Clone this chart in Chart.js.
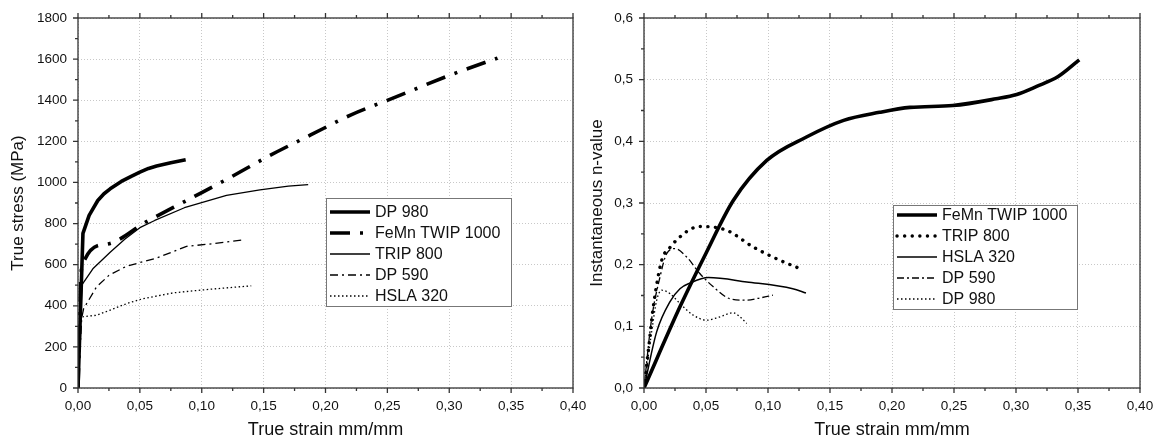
<!DOCTYPE html>
<html>
<head>
<meta charset="utf-8">
<script src="https://cdn.jsdelivr.net/npm/chart.js@4/dist/chart.umd.min.js"></script>
<style>
    html, body { margin: 0; padding: 0; background: #fff; }
    #wrap { position: relative; width: 1158px; height: 444px; overflow: hidden; }
    #left { position: absolute; left: 0; top: 0; width: 600px; height: 444px; }
    #right { position: absolute; left: 579px; top: 0; width: 579px; height: 444px; }
</style>
</head>
<body>
<div id="wrap">
    <div id="left"><canvas id="stressChart"></canvas></div>
    <div id="right"><canvas id="nChart"></canvas></div>
</div>
<script>
// ---- left panel: true stress vs true strain ----
const dp980Strain = [0, 0.004, 0.009, 0.016, 0.021, 0.026, 0.035, 0.043, 0.05, 0.057, 0.0635, 0.075, 0.087];
const dp980Stress = [0, 752, 840, 912, 945, 969, 1005, 1030, 1050, 1068, 1080, 1096, 1110];
const twipStrain = [0, 0.003, 0.0226, 0.0559, 0.089, 0.122, 0.155, 0.188, 0.2207, 0.254, 0.305, 0.339];
const twipStress = [0, 589, 699, 811, 916, 1021, 1131, 1231, 1329, 1409, 1532, 1605];
const trip800Strain = [0, 0.003, 0.012, 0.026, 0.038, 0.05, 0.062, 0.086, 0.12, 0.147, 0.17, 0.186];
const trip800Stress = [0, 500, 580, 660, 725, 780, 815, 877, 937, 964, 982, 989];
const dp590Strain = [0, 0.003, 0.0045, 0.015, 0.025, 0.039, 0.0635, 0.0877, 0.109, 0.1347];
const dp590Stress = [0, 340, 385, 492, 548, 592, 632, 689, 702, 722];
const hsla320Strain = [0, 0.002, 0.003, 0.015, 0.026, 0.04, 0.0527, 0.077, 0.104, 0.14];
const hsla320Stress = [0, 320, 346, 354, 379, 412, 435, 463, 479, 497];

// ---- right panel: instantaneous n-value vs true strain ----
const twipNStrain = [0, 0.029, 0.0505, 0.072, 0.099, 0.131, 0.161, 0.19, 0.2145, 0.249, 0.284, 0.3006, 0.3167, 0.334, 0.351];
const twipN = [0, 0.1316, 0.2206, 0.304, 0.369, 0.407, 0.434, 0.447, 0.455, 0.458, 0.469, 0.476, 0.489, 0.505, 0.532];
const trip800NStrain = [0, 0.0035, 0.0075, 0.0143, 0.021, 0.029, 0.038, 0.045, 0.0667, 0.088, 0.1097, 0.1244];
const trip800N = [0, 0.0615, 0.1316, 0.207, 0.228, 0.245, 0.258, 0.262, 0.2557, 0.2287, 0.207, 0.1947];
const hsla320NStrain = [0, 0.0102, 0.021, 0.029, 0.037, 0.0519, 0.0828, 0.12, 0.1306];
const hsla320N = [0, 0.091, 0.14, 0.161, 0.170, 0.179, 0.172, 0.161, 0.154];
const dp590NStrain = [0, 0.006, 0.0129, 0.0183, 0.025, 0.0344, 0.045, 0.0559, 0.069, 0.0828, 0.0935, 0.104];
const dp590N = [0, 0.11, 0.18, 0.218, 0.226, 0.2125, 0.1857, 0.164, 0.145, 0.1424, 0.146, 0.1505];
const dp980NStrain = [0, 0.006, 0.0102, 0.0143, 0.021, 0.029, 0.0398, 0.0505, 0.0613, 0.072, 0.0774, 0.0828];
const dp980N = [0, 0.0885, 0.142, 0.1586, 0.153, 0.137, 0.118, 0.11, 0.1154, 0.122, 0.1154, 0.1047];

const strainTicks = [0, 0.05, 0.10, 0.15, 0.20, 0.25, 0.30, 0.35, 0.40];
const stressTicks = [0, 200, 400, 600, 800, 1000, 1200, 1400, 1600, 1800];
const nTicks = [0, 0.1, 0.2, 0.3, 0.4, 0.5, 0.6];

Chart.defaults.font.family = "'Liberation Sans', Arial, sans-serif";
Chart.defaults.color = "#111";

let pts = (xs, ys) => xs.map((v, i) => ({x: v, y: ys[i]}));
let comma = (v, d) => Number(v).toFixed(d).replace(".", ",");

// box around plot area, with outward major/minor ticks
const framePlugin = {
    id: "frame",
    afterDatasetsDraw(chart, args, opts) {
        const {ctx, chartArea: a, scales: {x, y}} = chart;
        ctx.save();
        ctx.strokeStyle = "#333";
        ctx.lineWidth = 1.3;
        ctx.strokeRect(a.left, a.top, a.right - a.left, a.bottom - a.top);
        ctx.beginPath();
        let n = Math.round((x.max - x.min) / (opts.xStep / 2));
        for (let i = 0; i <= n; i++) {
            let px = x.getPixelForValue(x.min + i * opts.xStep / 2);
            let len = i % 2 ? 3 : 5;
            ctx.moveTo(px, a.bottom); ctx.lineTo(px, a.bottom + len);
            ctx.moveTo(px, a.top); ctx.lineTo(px, a.top - len);
        }
        n = Math.round((y.max - y.min) / (opts.yStep / 2));
        for (let i = 0; i <= n; i++) {
            let py = y.getPixelForValue(y.min + i * opts.yStep / 2);
            let len = i % 2 ? 3 : 5;
            ctx.moveTo(a.left, py); ctx.lineTo(a.left - len, py);
        }
        ctx.stroke();
        ctx.restore();
    }
};

// boxed legend inside the plot
const boxLegend = {
    id: "boxLegend",
    afterDraw(chart, args, o) {
        const ctx = chart.ctx;
        ctx.save();
        ctx.fillStyle = "#fff";
        ctx.fillRect(o.x, o.y, o.w, o.h);
        ctx.strokeStyle = "#777";
        ctx.lineWidth = 1;
        ctx.strokeRect(o.x + 0.5, o.y + 0.5, o.w, o.h);
        ctx.font = "16px 'Liberation Sans', Arial, sans-serif";
        ctx.textBaseline = "middle";
        chart.data.datasets.forEach((ds, i) => {
            let cy = o.y + o.first + i * o.row;
            ctx.strokeStyle = "#000";
            ctx.lineWidth = ds.borderWidth;
            ctx.lineCap = ds.borderCapStyle || "butt";
            ctx.setLineDash(ds.borderDash || []);
            ctx.beginPath();
            ctx.moveTo(o.x + 4, cy);
            ctx.lineTo(o.x + 44, cy);
            ctx.stroke();
            ctx.fillStyle = "#111";
            ctx.fillText(ds.label, o.x + 49, cy + 1);
        });
        ctx.restore();
    }
};

let lineSet = (label, data, width, dash, cap, smooth) => ({
    label: label,
    data: data,
    borderColor: "#000",
    borderWidth: width,
    borderDash: dash,
    borderCapStyle: cap || "butt",
    borderJoinStyle: "round",
    pointRadius: 0,
    fill: false,
    tension: 0,
    cubicInterpolationMode: smooth ? "monotone" : "default"
});

let makeOptions = (cfg) => ({
    responsive: true,
    maintainAspectRatio: false,
    animation: false,
    events: [],
    layout: {padding: {top: 18, right: cfg.padRight, left: 0, bottom: 0}},
    plugins: {
        legend: {display: false},
        tooltip: {enabled: false},
        frame: {xStep: 0.05, yStep: cfg.yStep},
        boxLegend: cfg.legend
    },
    scales: {
        x: {
            type: "linear",
            min: 0,
            max: 0.4,
            afterBuildTicks: s => { s.ticks = strainTicks.map(v => ({value: v})); },
            afterFit: s => { s.height = 56; s.paddingLeft = 0; s.paddingRight = 0; },
            ticks: {font: {size: 13.5}, padding: 10, maxRotation: 0, callback: v => comma(v, 2)},
            grid: {color: "#c8c8c8", lineWidth: 1, drawTicks: false},
            border: {display: false, dash: [1, 2]},
            title: {display: true, text: "True strain mm/mm", font: {size: 18}, padding: {top: 0, bottom: 3}}
        },
        y: {
            min: 0,
            max: cfg.yMax,
            afterBuildTicks: s => { s.ticks = cfg.yTicks.map(v => ({value: v})); },
            afterFit: s => { s.width = cfg.yWidth; s.paddingTop = 0; s.paddingBottom = 0; },
            ticks: {font: {size: 13.5}, padding: 11, callback: cfg.yLabel},
            grid: {color: "#c8c8c8", lineWidth: 1, drawTicks: false},
            border: {display: false, dash: [1, 2]},
            title: {display: true, text: cfg.yTitle, font: {size: 17}, padding: {top: 8, bottom: 0}}
        }
    }
});

new Chart(document.getElementById("stressChart").getContext("2d"), {
    type: "line",
    data: {
        datasets: [
            lineSet("DP 980", pts(dp980Strain, dp980Stress), 3.6, []),
            lineSet("FeMn TWIP 1000", pts(twipStrain, twipStress), 3.6, [20, 10, 3, 10], "butt", true),
            lineSet("TRIP 800", pts(trip800Strain, trip800Stress), 1.3, []),
            lineSet("DP 590", pts(dp590Strain, dp590Stress), 1.3, [8, 4, 2, 4]),
            lineSet("HSLA 320", pts(hsla320Strain, hsla320Stress), 1.3, [1.5, 2.5])
        ]
    },
    options: makeOptions({
        padRight: 27, yMax: 1800, yStep: 200, yTicks: stressTicks, yWidth: 78,
        yLabel: v => String(v), yTitle: "True stress (MPa)",
        legend: {x: 326, y: 198, w: 185, h: 108, first: 14, row: 21}
    }),
    plugins: [framePlugin, boxLegend]
});

new Chart(document.getElementById("nChart").getContext("2d"), {
    type: "line",
    data: {
        datasets: [
            lineSet("FeMn TWIP 1000", pts(twipNStrain, twipN), 3.6, [], "butt", true),
            lineSet("TRIP 800", pts(trip800NStrain, trip800N), 3.4, [0.1, 7.5], "round", true),
            lineSet("HSLA 320", pts(hsla320NStrain, hsla320N), 1.5, [], "butt", true),
            lineSet("DP 590", pts(dp590NStrain, dp590N), 1.3, [7, 3, 2, 3], "butt", true),
            lineSet("DP 980", pts(dp980NStrain, dp980N), 1.3, [1.5, 2.5], "butt", true)
        ]
    },
    options: makeOptions({
        padRight: 18, yMax: 0.6, yStep: 0.1, yTicks: nTicks, yWidth: 65,
        yLabel: v => comma(v, 1), yTitle: "Instantaneous n-value",
        legend: {x: 314, y: 205, w: 184, h: 104, first: 10, row: 21}
    }),
    plugins: [framePlugin, boxLegend]
});
</script>
</body>
</html>
